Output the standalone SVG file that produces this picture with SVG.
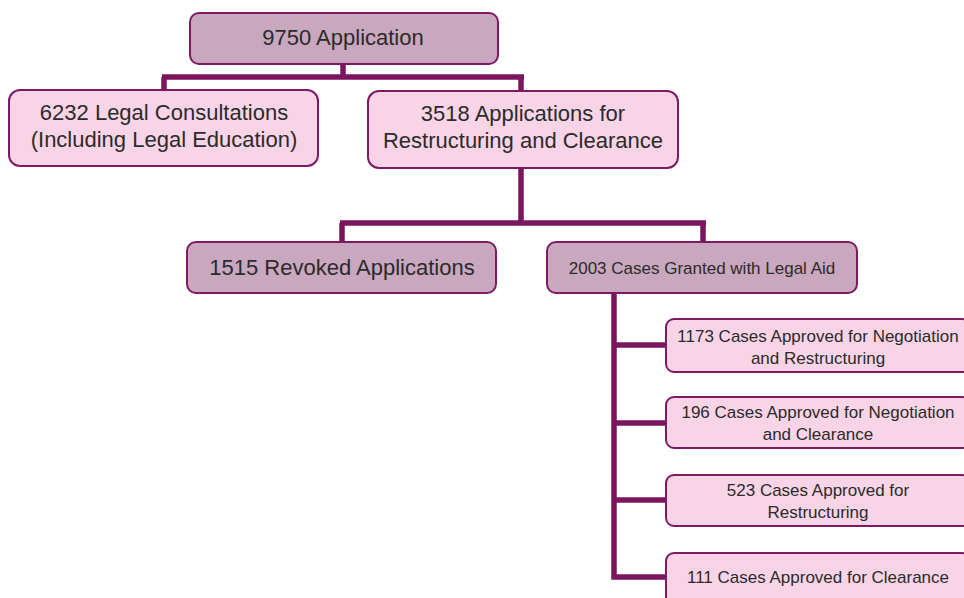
<svg xmlns="http://www.w3.org/2000/svg" width="964" height="598" viewBox="0 0 964 598">
<style>
.box{stroke:#7E1A63;stroke-width:2}
.dark{fill:#C9A7BE}
.light{fill:#F9D4E6}
.t{font-family:"Liberation Sans",Arial,sans-serif;fill:#2B2B2B;text-anchor:middle}
.big{font-size:22px}
.small{font-size:17px}
.conn{fill:none;stroke:#7B1560;stroke-width:5.5;stroke-linejoin:miter;stroke-linecap:butt}
</style>
<rect width="964" height="598" fill="#ffffff"/>
<g id="connectors">
<path class="conn" d="M343 64 V77 M162 77 H524 M164 77 V91 M521 77 V92"/>
<path class="conn" d="M521 168 V223 M340 223 H706 M342 223 V242 M703 223 V242"/>
<path class="conn" d="M614 293 V577 H666 M614 345 H666 M614 423 H666 M614 500 H666"/>
</g>
<g id="n9750">
<rect class="box dark" x="190" y="13" width="308" height="51" rx="9"/>
<text class="t big" x="343" y="45">9750 Application</text>
</g>
<g id="n6232">
<rect class="box light" x="9" y="90" width="309" height="76" rx="11"/>
<text class="t big" x="164" y="120">6232 Legal Consultations</text>
<text class="t big" x="164" y="147">(Including Legal Education)</text>
</g>
<g id="n3518">
<rect class="box light" x="368" y="91" width="310" height="77" rx="11"/>
<text class="t big" x="523" y="121">3518 Applications for</text>
<text class="t big" x="523" y="148">Restructuring and Clearance</text>
</g>
<g id="n1515">
<rect class="box dark" x="187" y="242" width="309" height="51" rx="9"/>
<text class="t big" x="342" y="275">1515 Revoked Applications</text>
</g>
<g id="n2003">
<rect class="box dark" x="547" y="242" width="310" height="51" rx="9"/>
<text class="t small" x="702" y="274">2003 Cases Granted with Legal Aid</text>
</g>
<g id="n1173">
<rect class="box light" x="666" y="319" width="304" height="53" rx="8"/>
<text class="t small" x="818" y="342">1173 Cases Approved for Negotiation</text>
<text class="t small" x="818" y="364">and Restructuring</text>
</g>
<g id="n196">
<rect class="box light" x="666" y="397" width="304" height="51" rx="8"/>
<text class="t small" x="818" y="418">196 Cases Approved for Negotiation</text>
<text class="t small" x="818" y="440">and Clearance</text>
</g>
<g id="n523">
<rect class="box light" x="666" y="475" width="304" height="51" rx="8"/>
<text class="t small" x="818" y="496">523 Cases Approved for</text>
<text class="t small" x="818" y="518">Restructuring</text>
</g>
<g id="n111">
<rect class="box light" x="666" y="553" width="304" height="60" rx="8"/>
<text class="t small" x="818" y="583">111 Cases Approved for Clearance</text>
</g>
</svg>
